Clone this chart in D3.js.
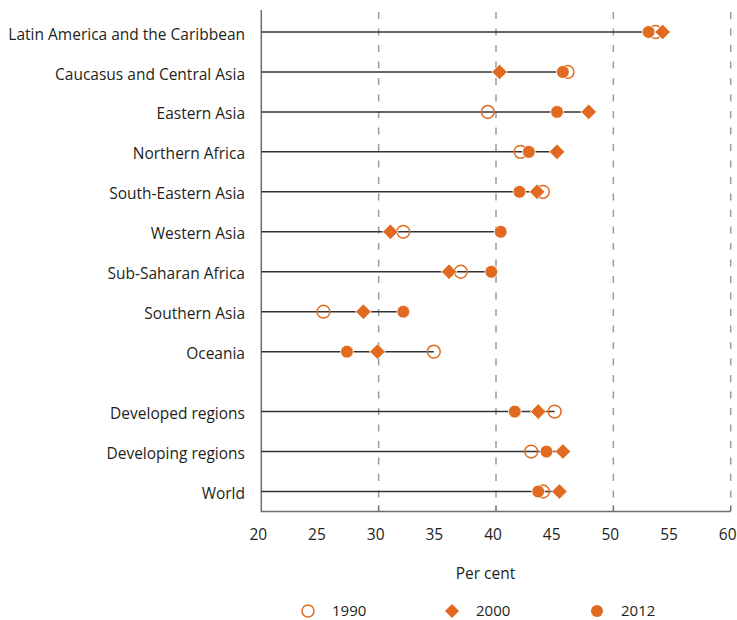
<!DOCTYPE html>
<html>
<head>
<meta charset="utf-8">
<script src="https://cdn.jsdelivr.net/npm/d3@7"></script>
<style>
  html, body { margin: 0; padding: 0; background: #fff; }
  svg { display: block; }
  text { font-family: "Open Sans", "Noto Sans", sans-serif; fill: #231f20; }
</style>
</head>
<body>
<svg id="chart" width="737" height="620"></svg>
<script>
const categories = [
  "Latin America and the Caribbean",
  "Caucasus and Central Asia",
  "Eastern Asia",
  "Northern Africa",
  "South-Eastern Asia",
  "Western Asia",
  "Sub-Saharan Africa",
  "Southern Asia",
  "Oceania",
  "Developed regions",
  "Developing regions",
  "World"
];
const values1990 = [53.6, 46.1, 39.3, 42.1, 44.0, 32.1, 37.0, 25.3, 34.7, 45.0, 43.0, 44.0];
const values2000 = [54.2, 40.3, 47.9, 45.2, 43.5, 31.0, 36.0, 28.7, 29.9, 43.6, 45.7, 45.4];
const values2012 = [53.0, 45.7, 45.2, 42.8, 42.0, 40.4, 39.6, 32.1, 27.3, 41.6, 44.3, 43.6];
const tickLabels = [20, 25, 30, 35, 40, 45, 50, 55, 60];
const tickMarks = [30, 40, 50, 60];
const legendLabels = ["1990", "2000", "2012"];
const regionCount = 9; // first 9 rows are regions, then a half-row gap before aggregates

const orange = "#e06a1f";
const svg = d3.select("#chart");

const x = d3.scaleLinear().domain([20, 60]).range([261.3, 730.7]);
const slotPos = i => (i < regionCount ? i : i + 0.5);
const y = d3.scaleLinear().domain([-0.5, 12]).range([12, 511.5]);

// gridlines
svg.append("g").selectAll("line").data(tickMarks).join("line")
  .attr("x1", d => x(d)).attr("x2", d => x(d))
  .attr("y1", 12).attr("y2", 505)
  .attr("stroke", "#9a9a9a").attr("stroke-width", 1.5)
  .attr("stroke-dasharray", "7,9.5");

// bottom axis labels
const axis = d3.axisBottom(x).tickValues(tickLabels).tickSize(0).tickPadding(17).tickFormat(d3.format("d"));
const ax = svg.append("g").attr("transform", `translate(-3.5,${y(12)})`).call(axis);
ax.select(".domain").remove();
ax.selectAll("text").style("font-size", "15.5px").attr("fill", "#231f20")
  .style("font-family", '"Open Sans", "Noto Sans", sans-serif');

// bottom axis line & upward tick marks
svg.append("line").attr("x1", x(20)).attr("x2", x(60)).attr("y1", y(12)).attr("y2", y(12))
  .attr("stroke", "#6d6e71").attr("stroke-width", 1.5);
svg.append("g").selectAll("line").data(tickMarks).join("line")
  .attr("x1", d => x(d)).attr("x2", d => x(d))
  .attr("y1", y(12) - 6).attr("y2", y(12))
  .attr("stroke", "#6d6e71").attr("stroke-width", 1.5);

// left axis line
svg.append("line").attr("x1", x(20)).attr("x2", x(20)).attr("y1", 10).attr("y2", y(12) + 0.75)
  .attr("stroke", "#6d6e71").attr("stroke-width", 1.5);

// rows
const rows = categories.map((c, i) => ({
  c, i, v90: values1990[i], v00: values2000[i], v12: values2012[i]
}));

svg.append("g").selectAll("line").data(rows).join("line")
  .attr("x1", x(20)).attr("x2", d => x(Math.max(d.v90, d.v00, d.v12)))
  .attr("y1", d => y(slotPos(d.i))).attr("y2", d => y(slotPos(d.i)))
  .attr("stroke", "#333333").attr("stroke-width", 1.5);

// category labels
svg.append("g").selectAll("text").data(rows).join("text")
  .attr("x", 245).attr("y", d => y(slotPos(d.i)) + 2)
  .attr("dy", "0.36em").attr("text-anchor", "end")
  .style("font-size", "15.5px").text(d => d.c);

const diamond = (cx, cy, r) => `M${cx},${cy - r}L${cx + r},${cy}L${cx},${cy + r}L${cx - r},${cy}Z`;

// 1990 open circles
svg.append("g").selectAll("circle").data(rows).join("circle")
  .attr("cx", d => x(d.v90)).attr("cy", d => y(slotPos(d.i))).attr("r", 6.4)
  .attr("fill", "none").attr("stroke", orange).attr("stroke-width", 1.5);

// 2000 diamonds
svg.append("g").selectAll("path").data(rows).join("path")
  .attr("d", d => diamond(x(d.v00), y(slotPos(d.i)), 7.8))
  .attr("fill", orange).attr("stroke", "#fff").attr("stroke-width", 0.8);

// 2012 filled circles
svg.append("g").selectAll("circle").data(rows).join("circle")
  .attr("cx", d => x(d.v12)).attr("cy", d => y(slotPos(d.i))).attr("r", 6.4)
  .attr("fill", orange).attr("stroke", "#fff").attr("stroke-width", 0.8);

// x axis title
svg.append("text").attr("x", 485.5).attr("y", 579)
  .attr("text-anchor", "middle").style("font-size", "15.5px").text("Per cent");

// legend
const legendX = [308, 452, 597];
const legendY = 611;
const lg = svg.append("g");
lg.append("circle").attr("cx", legendX[0]).attr("cy", legendY).attr("r", 6)
  .attr("fill", "none").attr("stroke", orange).attr("stroke-width", 1.5);
lg.append("path").attr("d", diamond(legendX[1], legendY, 7)).attr("fill", orange);
lg.append("circle").attr("cx", legendX[2]).attr("cy", legendY).attr("r", 6).attr("fill", orange);
lg.selectAll("text").data(legendLabels).join("text")
  .attr("x", (d, i) => legendX[i] + 24).attr("y", 616)
  .style("font-size", "15px").text(d => d);
</script>
</body>
</html>
